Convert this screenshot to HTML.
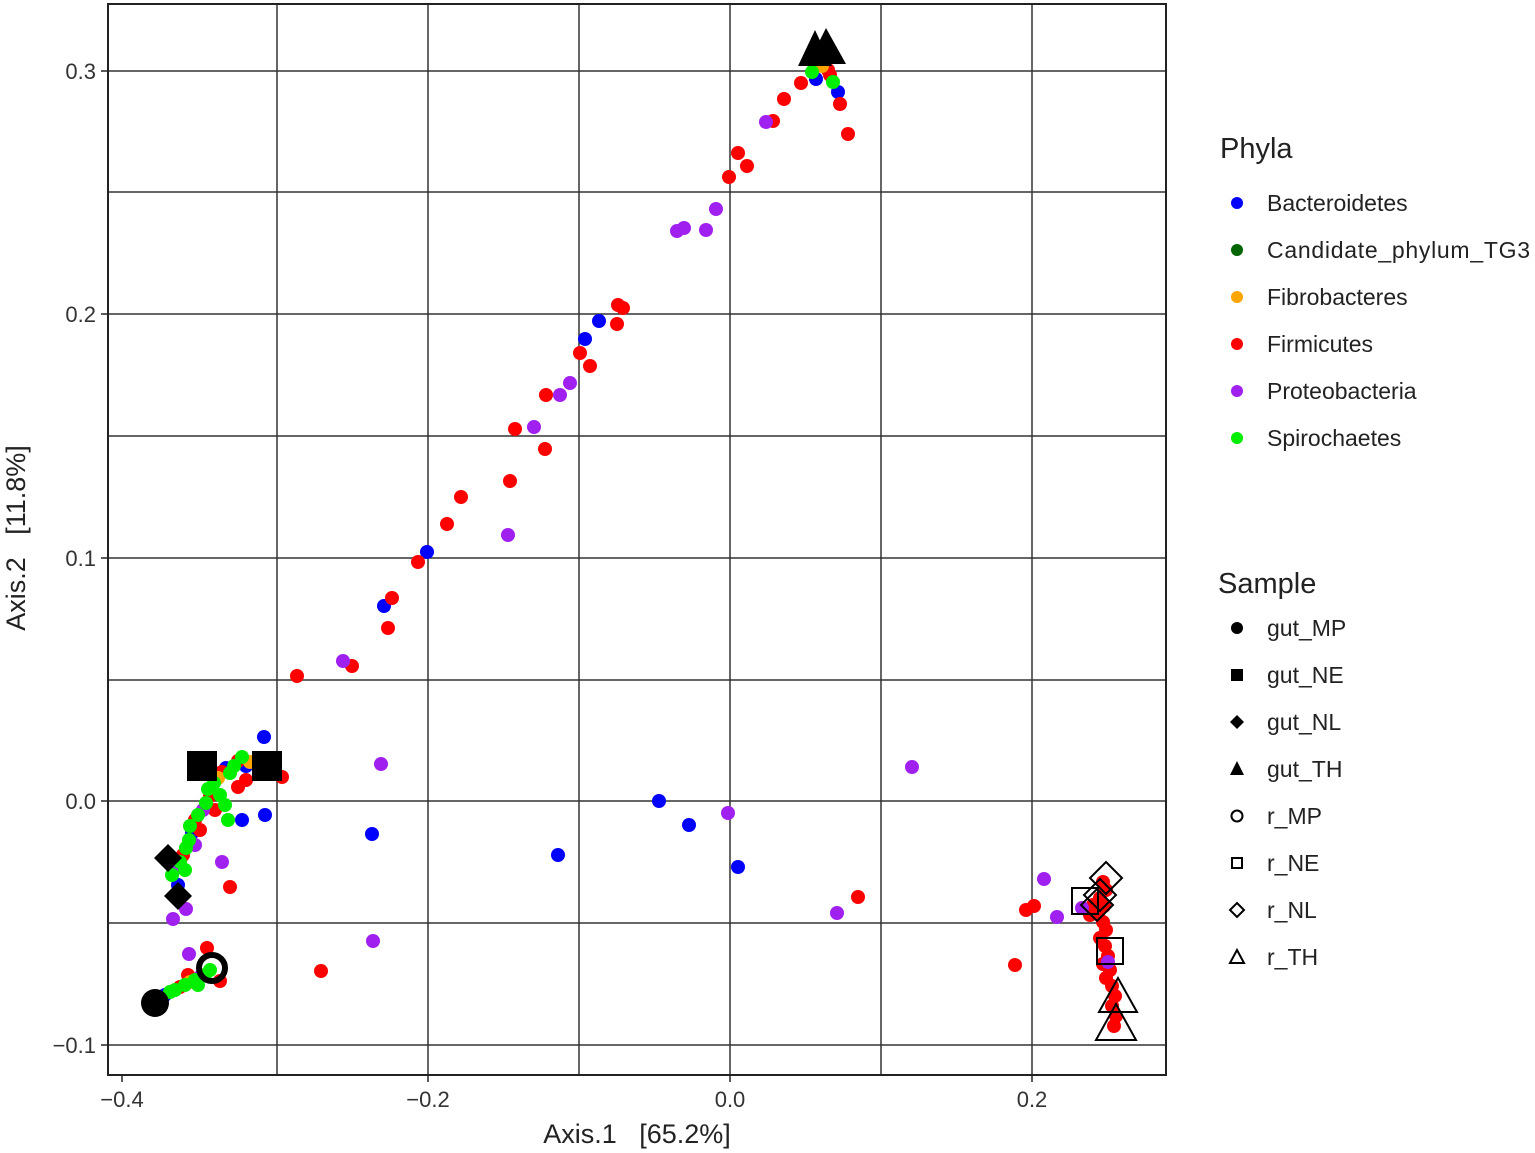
<!DOCTYPE html>
<html><head><meta charset="utf-8"><style>body{margin:0;background:#fff}svg{display:block;font-family:"Liberation Sans",Arial,sans-serif}</style></head><body>
<svg width="1535" height="1153" viewBox="0 0 1535 1153">
<rect x="0" y="0" width="1535" height="1153" fill="#fff"/>
<g stroke="#333" stroke-width="1.5" fill="none">
<line x1="277" y1="4" x2="277" y2="1075"/><line x1="428" y1="4" x2="428" y2="1075"/><line x1="579" y1="4" x2="579" y2="1075"/><line x1="730" y1="4" x2="730" y2="1075"/><line x1="881" y1="4" x2="881" y2="1075"/><line x1="1032" y1="4" x2="1032" y2="1075"/>
<line x1="108" y1="71" x2="1166" y2="71"/><line x1="108" y1="192" x2="1166" y2="192"/><line x1="108" y1="314" x2="1166" y2="314"/><line x1="108" y1="436" x2="1166" y2="436"/><line x1="108" y1="558" x2="1166" y2="558"/><line x1="108" y1="680" x2="1166" y2="680"/><line x1="108" y1="801" x2="1166" y2="801"/><line x1="108" y1="923" x2="1166" y2="923"/><line x1="108" y1="1045" x2="1166" y2="1045"/>
</g>
<rect x="108" y="4" width="1058" height="1071" fill="none" stroke="#222" stroke-width="2"/>
<g stroke="#222" stroke-width="1.5">
<line x1="122" y1="1075" x2="122" y2="1082"/><line x1="428" y1="1075" x2="428" y2="1082"/><line x1="730" y1="1075" x2="730" y2="1082"/><line x1="1032" y1="1075" x2="1032" y2="1082"/>
<line x1="101" y1="71" x2="108" y2="71"/><line x1="101" y1="314" x2="108" y2="314"/><line x1="101" y1="558" x2="108" y2="558"/><line x1="101" y1="801" x2="108" y2="801"/><line x1="101" y1="1045" x2="108" y2="1045"/>
</g>
<g font-size="22" fill="#333" text-anchor="middle">
<text x="122" y="1107">−0.4</text><text x="428" y="1107">−0.2</text><text x="730" y="1107">0.0</text><text x="1032" y="1107">0.2</text>
</g>
<g font-size="22" fill="#333" text-anchor="end">
<text x="96" y="79">0.3</text><text x="96" y="322">0.2</text><text x="96" y="566">0.1</text><text x="96" y="809">0.0</text><text x="96" y="1053">−0.1</text>
</g>
<text x="637" y="1143" font-size="27" text-anchor="middle" fill="#222" xml:space="preserve">Axis.1   [65.2%]</text>
<text transform="translate(25,538) rotate(-90)" font-size="27" text-anchor="middle" fill="#222" xml:space="preserve">Axis.2   [11.8%]</text>
<g>
<g fill="#0000ff"><circle cx="816" cy="79" r="7"/><circle cx="838" cy="92" r="7"/><circle cx="599" cy="321" r="7"/><circle cx="585" cy="339" r="7"/><circle cx="427" cy="552" r="7"/><circle cx="384" cy="606" r="7"/><circle cx="264" cy="737" r="7"/><circle cx="265" cy="815" r="7"/><circle cx="242" cy="820" r="7"/><circle cx="372" cy="834" r="7"/><circle cx="558" cy="855" r="7"/><circle cx="659" cy="801" r="7"/><circle cx="689" cy="825" r="7"/><circle cx="738" cy="867" r="7"/><circle cx="192" cy="833" r="7"/><circle cx="226" cy="768" r="7"/><circle cx="246" cy="766" r="7"/><circle cx="178" cy="885" r="7"/><circle cx="210" cy="770" r="7"/><circle cx="165" cy="995" r="7"/></g>
<g fill="#ff0000"><circle cx="828" cy="70" r="7"/><circle cx="830" cy="75" r="7"/><circle cx="840" cy="104" r="7"/><circle cx="848" cy="134" r="7"/><circle cx="801" cy="83" r="7"/><circle cx="784" cy="99" r="7"/><circle cx="773" cy="121" r="7"/><circle cx="747" cy="166" r="7"/><circle cx="738" cy="153" r="7"/><circle cx="729" cy="177" r="7"/><circle cx="623" cy="308" r="7"/><circle cx="618" cy="305" r="7"/><circle cx="617" cy="324" r="7"/><circle cx="590" cy="366" r="7"/><circle cx="580" cy="353" r="7"/><circle cx="546" cy="395" r="7"/><circle cx="515" cy="429" r="7"/><circle cx="545" cy="449" r="7"/><circle cx="510" cy="481" r="7"/><circle cx="461" cy="497" r="7"/><circle cx="447" cy="524" r="7"/><circle cx="418" cy="562" r="7"/><circle cx="392" cy="598" r="7"/><circle cx="388" cy="628" r="7"/><circle cx="352" cy="666" r="7"/><circle cx="297" cy="676" r="7"/><circle cx="282" cy="777" r="7"/><circle cx="858" cy="897" r="7"/><circle cx="230" cy="887" r="7"/><circle cx="321" cy="971" r="7"/><circle cx="207" cy="948" r="7"/><circle cx="220" cy="981" r="7"/><circle cx="1015" cy="965" r="7"/><circle cx="1026" cy="910" r="7"/><circle cx="1034" cy="906" r="7"/>
<circle cx="183" cy="855" r="7"/><circle cx="195" cy="820" r="7"/><circle cx="210" cy="796" r="7"/><circle cx="222" cy="772" r="7"/><circle cx="238" cy="761" r="7"/><circle cx="215" cy="810" r="7"/><circle cx="200" cy="830" r="7"/><circle cx="238" cy="787" r="7"/><circle cx="246" cy="780" r="7"/><circle cx="180" cy="987" r="7"/><circle cx="188" cy="975" r="7"/>
<circle cx="1103" cy="882" r="7"/><circle cx="1106" cy="890" r="7"/><circle cx="1100" cy="898" r="7"/><circle cx="1104" cy="906" r="7"/><circle cx="1098" cy="914" r="7"/><circle cx="1103" cy="922" r="7"/><circle cx="1106" cy="930" r="7"/><circle cx="1100" cy="938" r="7"/><circle cx="1105" cy="946" r="7"/><circle cx="1108" cy="956" r="7"/><circle cx="1103" cy="964" r="7"/><circle cx="1110" cy="970" r="7"/><circle cx="1106" cy="978" r="7"/><circle cx="1112" cy="986" r="7"/><circle cx="1115" cy="996" r="7"/><circle cx="1112" cy="1006" r="7"/><circle cx="1116" cy="1016" r="7"/><circle cx="1114" cy="1026" r="7"/><circle cx="1093" cy="905" r="7"/><circle cx="1090" cy="915" r="7"/></g>
<g fill="#a020f0"><circle cx="766" cy="122" r="7"/><circle cx="716" cy="209" r="7"/><circle cx="706" cy="230" r="7"/><circle cx="684" cy="228" r="7"/><circle cx="677" cy="231" r="7"/><circle cx="570" cy="383" r="7"/><circle cx="560" cy="395" r="7"/><circle cx="534" cy="427" r="7"/><circle cx="508" cy="535" r="7"/><circle cx="343" cy="661" r="7"/><circle cx="381" cy="764" r="7"/><circle cx="728" cy="813" r="7"/><circle cx="837" cy="913" r="7"/><circle cx="912" cy="767" r="7"/><circle cx="222" cy="862" r="7"/><circle cx="173" cy="919" r="7"/><circle cx="186" cy="909" r="7"/><circle cx="373" cy="941" r="7"/><circle cx="189" cy="954" r="7"/><circle cx="1044" cy="879" r="7"/><circle cx="1057" cy="917" r="7"/><circle cx="176" cy="868" r="7"/><circle cx="203" cy="810" r="7"/><circle cx="195" cy="845" r="7"/><circle cx="200" cy="977" r="7"/><circle cx="1082" cy="908" r="7"/><circle cx="1108" cy="962" r="7"/></g>
<g fill="#ffa500"><circle cx="822" cy="66" r="7"/><circle cx="218" cy="778" r="7"/><circle cx="250" cy="762" r="7"/><circle cx="190" cy="982" r="7"/></g>
<g fill="#00ee00"><circle cx="812" cy="72" r="7"/><circle cx="833" cy="82" r="7"/><circle cx="172" cy="875" r="7"/><circle cx="180" cy="862" r="7"/><circle cx="186" cy="848" r="7"/><circle cx="189" cy="840" r="7"/><circle cx="190" cy="826" r="7"/><circle cx="198" cy="815" r="7"/><circle cx="206" cy="803" r="7"/><circle cx="208" cy="789" r="7"/><circle cx="214" cy="783" r="7"/><circle cx="230" cy="773" r="7"/><circle cx="234" cy="766" r="7"/><circle cx="242" cy="757" r="7"/><circle cx="220" cy="795" r="7"/><circle cx="225" cy="805" r="7"/><circle cx="228" cy="820" r="7"/><circle cx="185" cy="870" r="7"/><circle cx="170" cy="992" r="7"/><circle cx="175" cy="990" r="7"/><circle cx="185" cy="985" r="7"/><circle cx="195" cy="980" r="7"/><circle cx="205" cy="975" r="7"/><circle cx="198" cy="985" r="7"/><circle cx="210" cy="970" r="7"/></g>
</g>
<g fill="#000">
<polygon points="815,30 798,66 832,66"/><polygon points="826,28 808,64 846,64"/>
<rect x="187" y="751" width="30" height="30"/><rect x="252" y="751" width="30" height="30"/>
<polygon points="168,844 182,858 168,872 154,858"/><polygon points="178,882 192,896 178,910 164,896"/>
<circle cx="155" cy="1003" r="14"/><circle cx="212" cy="968" r="13" fill="none" stroke="#000" stroke-width="6"/>
</g>
<g fill="none" stroke="#000" stroke-width="2">
<polygon points="1106,862 1122,878 1106,894 1090,878"/><polygon points="1100,879 1116,895 1100,911 1084,895"/><polygon points="1097,889 1113,905 1097,921 1081,905"/>
<rect x="1072" y="888" width="26" height="26"/><rect x="1097" y="938" width="26" height="26"/>
<polygon points="1118,978 1099,1012 1137,1012"/><polygon points="1116,1004 1096,1040 1136,1040"/>
</g>
<g font-size="29" fill="#222"><text x="1220" y="158">Phyla</text><text x="1218" y="593">Sample</text></g>
<g font-size="23" fill="#222">
<circle cx="1237" cy="203" r="6" fill="#0000ff"/><text x="1267" y="211">Bacteroidetes</text>
<circle cx="1237" cy="250" r="6" fill="#006400"/><text x="1267" y="258" textLength="263">Candidate_phylum_TG3</text>
<circle cx="1237" cy="297" r="6" fill="#ffa500"/><text x="1267" y="305">Fibrobacteres</text>
<circle cx="1237" cy="344" r="6" fill="#ff0000"/><text x="1267" y="352">Firmicutes</text>
<circle cx="1237" cy="391" r="6" fill="#a020f0"/><text x="1267" y="399">Proteobacteria</text>
<circle cx="1237" cy="438" r="6" fill="#00ee00"/><text x="1267" y="446">Spirochaetes</text>
<circle cx="1237" cy="628" r="6" fill="#000"/><text x="1267" y="636">gut_MP</text>
<rect x="1231" y="669" width="12" height="12" fill="#000"/><text x="1267" y="683">gut_NE</text>
<polygon points="1237,715 1244,722 1237,729 1230,722" fill="#000"/><text x="1267" y="730">gut_NL</text>
<polygon points="1237,761 1230,775 1244,775" fill="#000"/><text x="1267" y="777">gut_TH</text>
<circle cx="1237" cy="816" r="5.5" fill="none" stroke="#000" stroke-width="2"/><text x="1267" y="824">r_MP</text>
<rect x="1232" y="858" width="10" height="10" fill="none" stroke="#000" stroke-width="2"/><text x="1267" y="871">r_NE</text>
<polygon points="1237,903 1244,910 1237,917 1230,910" fill="none" stroke="#000" stroke-width="2"/><text x="1267" y="918">r_NL</text>
<polygon points="1237,950 1230,963 1244,963" fill="none" stroke="#000" stroke-width="2"/><text x="1267" y="965">r_TH</text>
</g>
</svg>
</body></html>
